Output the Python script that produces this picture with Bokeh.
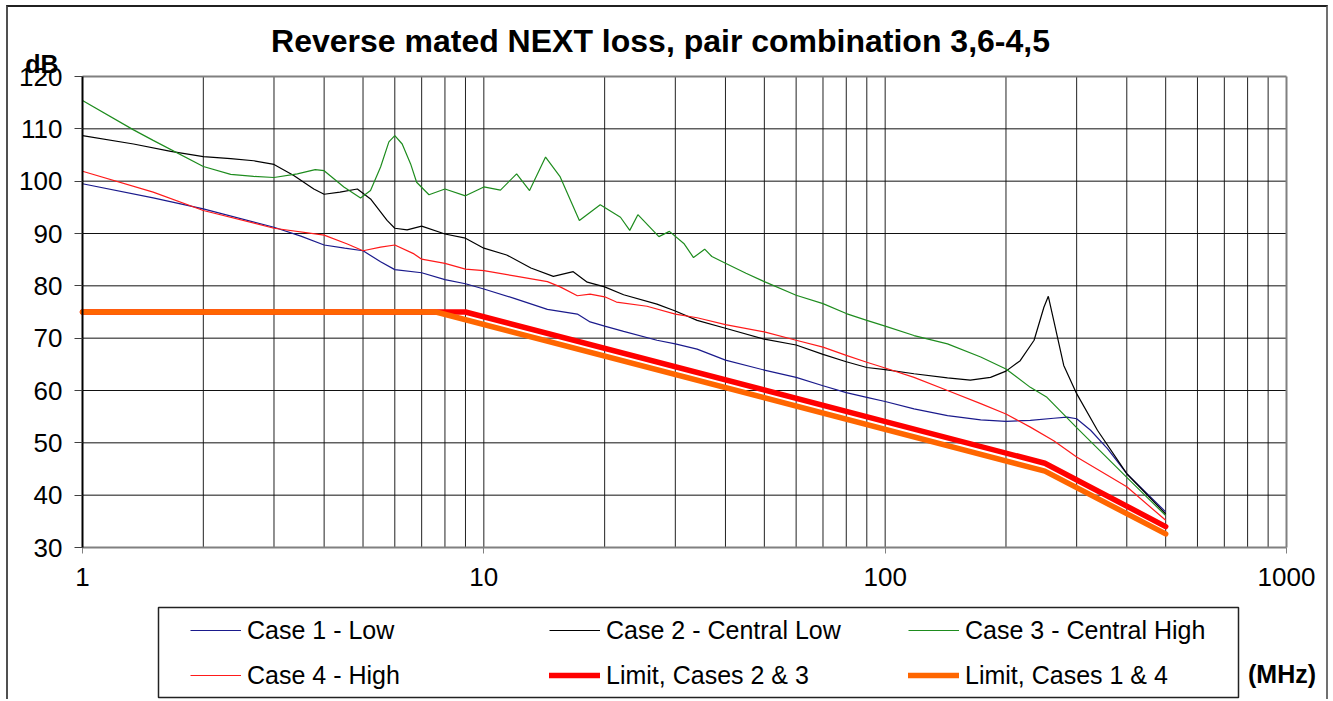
import math
from bokeh.plotting import figure
from bokeh.models import Range1d, FixedTicker, Legend, LegendItem, Label, BoxAnnotation
from bokeh.embed import file_html
from bokeh.resources import INLINE

title_text = "Reverse mated NEXT loss, pair combination 3,6-4,5"
x_ticks = [1, 10, 100, 1000]
x_minor = [2, 3, 4, 5, 6, 7, 8, 9, 20, 30, 40, 50, 60, 70, 80, 90,
           200, 300, 400, 500, 600, 700, 800, 900]
y_ticks = [30, 40, 50, 60, 70, 80, 90, 100, 110, 120]

case1_f = [1, 1.5, 2, 3, 3.5, 4, 4.5, 5, 5.53, 6, 7, 8, 9, 10, 11.9, 14.4, 17.1, 18.4, 20,
           22.3, 27, 30, 34, 40, 50, 60, 70, 80, 90, 100, 118, 143, 173, 200, 230, 263,
           284, 300, 325, 358, 400, 500]
case1_v = [99.5, 96.8, 94.7, 91.2, 89.5, 87.8, 87.2, 86.7, 84.6, 83.1, 82.5, 81.2, 80.4, 79.4,
           77.6, 75.5, 74.6, 73.1, 72.3, 71.3, 69.6, 68.9, 67.9, 65.8, 63.9, 62.5, 60.9, 59.6,
           58.7, 57.9, 56.5, 55.2, 54.4, 54.1, 54.3, 54.7, 54.9, 54.6, 52.4, 48.9, 44.1, 36.8]

case2_f = [1, 1.34, 1.66, 2, 2.34, 2.67, 3, 3.36, 3.77, 4, 4.38, 4.84, 5.22, 5.74, 6, 6.44,
           7, 8, 9, 10, 11.4, 13.1, 14.9, 16.7, 18.1, 20, 22.3, 27, 30, 34, 40, 50, 60, 70,
           80, 90, 100, 118, 143, 163, 183, 200, 217, 235, 248.6, 255, 263, 278.6, 300, 338,
           400, 500]
case2_v = [108.7, 107.1, 105.7, 104.7, 104.3, 103.9, 103.2, 101.1, 98.5, 97.5, 97.9, 98.5,
           96.6, 92.5, 91.0, 90.7, 91.4, 89.9, 89.1, 87.2, 85.9, 83.4, 81.8, 82.7, 80.7, 79.8,
           78.3, 76.5, 75.2, 73.4, 71.9, 69.8, 68.7, 66.9, 65.5, 64.4, 64.0, 63.2, 62.4, 62.0,
           62.5, 63.7, 65.7, 69.6, 75.9, 78.0, 73.4, 64.8, 59.4, 52.4, 44.1, 36.4]

case3_f = [1, 1.34, 1.5, 2, 2.34, 2.67, 3, 3.43, 3.8, 4, 4.48, 4.93, 5.22, 5.53, 5.8, 6.0,
           6.26, 6.57, 6.8, 7.3, 8, 9, 10, 11, 12.07, 13.0, 14.25, 15.5, 17.3, 19.5, 21.9,
           23.1, 24.2, 27.3, 29, 31.5, 33.3, 35.5, 37, 40, 45, 50, 60, 70, 80, 90, 100, 118,
           143, 173, 200, 230, 253, 300, 400, 500]
case3_v = [115.4, 109.8, 107.8, 102.8, 101.3, 100.9, 100.7, 101.4, 102.2, 102.0, 98.9, 96.8,
           98.2, 102.7, 107.5, 108.7, 107.1, 103.3, 99.8, 97.4, 98.5, 97.2, 98.9, 98.3, 101.4,
           98.2, 104.6, 100.8, 92.5, 95.5, 93.1, 90.6, 93.6, 89.4, 90.4, 88.1, 85.4, 87.0,
           85.6, 84.3, 82.4, 80.8, 78.2, 76.6, 74.7, 73.4, 72.3, 70.5, 68.9, 66.4, 64.1, 60.6,
           58.7, 52.9, 43.4, 36.1]

case4_f = [1, 1.5, 2, 3, 4, 4.57, 5, 5.53, 6, 6.7, 7, 8, 9, 10, 11.9, 14.4, 15.5, 17.1, 18.4,
           20, 21.4, 25.5, 30, 34, 40, 50, 60, 70, 80, 90, 100, 118, 143, 173, 200, 230, 263,
           300, 400, 500]
case4_v = [101.9, 97.9, 94.4, 91.0, 89.7, 88.0, 86.7, 87.4, 87.8, 86.1, 85.1, 84.3, 83.2,
           82.9, 81.9, 80.8, 79.8, 78.1, 78.4, 77.9, 76.9, 76.1, 74.6, 73.9, 72.6, 71.2, 69.6,
           68.3, 66.7, 65.4, 64.3, 62.5, 60.0, 57.5, 55.5, 53.0, 50.4, 47.3, 41.6, 35.2]

limit23_f = [1, 9, 250, 500]
limit23_v = [75, 75, 46.1, 34.0]
limit14_f = [1, 7.6, 250, 500]
limit14_v = [75, 75, 44.6, 32.6]

FONT = "Liberation Sans"

# ---- layout (canvas pixels) ----
W, H = 1322, 694
PL, PR, PT, PB = 74, 1278, 69, 540      # plot area inside the canvas
X0, X1 = x_ticks[0], x_ticks[-1]
Y0, Y1 = y_ticks[0], y_ticks[-1]
dec_px = (PR - PL) / (math.log10(X1) - math.log10(X0))
x_lo = 10 ** (math.log10(X0) - PL / dec_px)
x_hi = 10 ** (math.log10(X1) + (W - PR) / dec_px)
v_px = (PB - PT) / (Y1 - Y0)
y_hi = Y1 + PT / v_px
y_lo = Y0 - (H - PB) / v_px

p = figure(width=W, height=H, x_axis_type="log",
           x_range=Range1d(x_lo, x_hi), y_range=Range1d(y_lo, y_hi),
           output_backend="svg", toolbar_location=None, title_location=None,
           min_border_left=0, min_border_right=0, min_border_top=0,
           min_border_bottom=0)
p.styles = {"margin-left": "6px", "margin-top": "5px",
            "border-left": "2px solid #505050", "border-top": "2px solid #202020",
            "border-right": "2px solid #707070"}
p.outline_line_color = None
p.grid.visible = False

# axes fixed at the plot-area edges
p.xaxis.fixed_location = Y0
p.yaxis.fixed_location = X0
p.xaxis.bounds = (X0, X1)
p.yaxis.bounds = (Y0, Y1)
p.xaxis.ticker = FixedTicker(ticks=x_ticks, minor_ticks=[])
p.yaxis.ticker = FixedTicker(ticks=y_ticks, minor_ticks=[])
p.xaxis.major_label_overrides = {1: "1", 10: "10", 100: "100", 1000: "1000"}
for ax in (p.xaxis, p.yaxis):
    ax.major_label_text_font = FONT
    ax.major_label_text_font_size = "26px"
    ax.major_label_text_color = "black"
    ax.minor_tick_out = 0
    ax.minor_tick_in = 0
    ax.major_tick_in = 0
    ax.axis_line_width = 2
p.xaxis.major_tick_out = 6
p.xaxis.major_label_standoff = 14
p.xaxis.axis_line_color = "#808080"
p.xaxis.major_tick_line_color = "#808080"
p.yaxis.major_tick_out = 8
p.yaxis.major_label_standoff = 12
p.yaxis.axis_line_color = "black"
p.yaxis.major_tick_line_color = "#404040"

# plot area grid built from the tick lists
vx = x_ticks[:-1] + x_minor
p.segment(x0=vx, y0=[Y0] * len(vx), x1=vx, y1=[Y1] * len(vx),
          line_color="#222222", line_width=1)
hy = y_ticks[1:-1]
p.segment(x0=[X0] * len(hy), y0=hy, x1=[X1] * len(hy), y1=hy,
          line_color="#111111", line_width=1)
# plot-area border (top and right)
p.segment(x0=[X0, X1], y0=[Y1, Y0], x1=[X1, X1], y1=[Y1, Y1],
          line_color="#808080", line_width=2)

r1 = p.line(case1_f, case1_v, line_color="#1a1a8c", line_width=1.2)
r2 = p.line(case2_f, case2_v, line_color="black", line_width=1.2)
r3 = p.line(case3_f, case3_v, line_color="#1e8c1e", line_width=1.2)
r4 = p.line(case4_f, case4_v, line_color="#ff1a1a", line_width=1.2)
r5 = p.line(limit23_f, limit23_v, line_color="#ff0000", line_width=5.5,
            line_cap="round", line_join="round")
r6 = p.line(limit14_f, limit14_v, line_color="#ff6600", line_width=5.5,
            line_cap="round", line_join="round")

legend = Legend(items=[
    LegendItem(label="Case 1 - Low", renderers=[r1]),
    LegendItem(label="Case 2 - Central Low", renderers=[r2]),
    LegendItem(label="Case 3 - Central High", renderers=[r3]),
    LegendItem(label="Case 4 - High", renderers=[r4]),
    LegendItem(label="Limit, Cases 2 & 3", renderers=[r5]),
    LegendItem(label="Limit, Cases 1 & 4", renderers=[r6]),
], location=(182, H - 683), orientation="horizontal", ncols=3,
    glyph_width=51, glyph_height=30, label_width=287, label_height=30,
    label_standoff=6, spacing=15, padding=0, margin=0,
    border_line_alpha=0, background_fill_alpha=0,
    label_text_font=FONT, label_text_font_size="25px", label_text_color="black")
p.add_layout(legend, "center")

box = BoxAnnotation(left=150, right=1230, top=H - 600, bottom=H - 690,
                    left_units="screen", right_units="screen",
                    top_units="screen", bottom_units="screen",
                    fill_alpha=0, line_color="#222222", line_width=1.5, line_alpha=1)
p.add_layout(box)

p.add_layout(Label(x=652, y=H - 33, x_units="screen", y_units="screen", text=title_text,
                   text_align="center", text_baseline="middle", text_font=FONT,
                   text_font_style="bold", text_font_size="32px", text_color="black"))
p.add_layout(Label(x=33.5, y=H - 56.5, x_units="screen", y_units="screen", text="dB",
                   text_align="center", text_baseline="middle", text_font=FONT,
                   text_font_style="bold", text_font_size="25px", text_color="black"))
p.add_layout(Label(x=1273.5, y=H - 666, x_units="screen", y_units="screen", text="(MHz)",
                   text_align="center", text_baseline="middle", text_font=FONT,
                   text_font_style="bold", text_font_size="25px", text_color="black"))

open("out.html", "w").write(file_html(p, INLINE))
